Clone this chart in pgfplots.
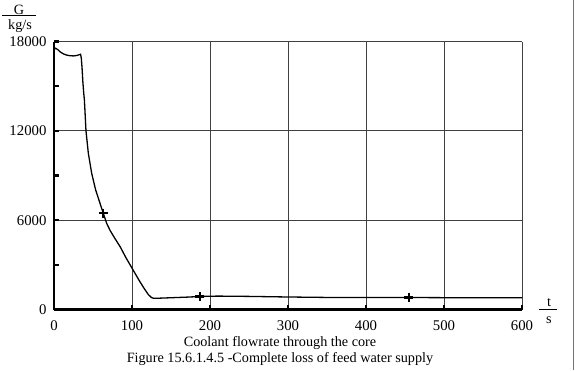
\documentclass[border=0pt]{standalone}
\usepackage{fontspec}
\setmainfont{Liberation Serif}
\usepackage{pgfplots}
\pgfplotsset{compat=1.18}
\begin{document}
\begin{tikzpicture}
\path[use as bounding box] (0,0) rectangle (575pt,370pt);
\draw[black!55, line width=1pt] (573.5pt,0) -- (573.5pt,370pt);
\begin{axis}[
  at={(54pt,60.5pt)}, anchor=south west,
  scale only axis, width=468pt, height=268pt,
  xmin=0, xmax=600, ymin=0, ymax=18000,
  enlargelimits=false,
  axis lines*=left,
  axis line style={-, line width=2.6pt, black},
  every outer x axis line/.append style={-},
  every outer y axis line/.append style={-},
  xtick={0,100,200,300,400,500,600},
  ytick={0,6000,12000,18000},
  minor ytick={3000,9000,15000},
  tick align=inside,
  major tick length=5pt, minor tick length=5pt,
  every tick/.style={black, line width=2.2pt},
  grid=major,
  major grid style={black!75, line width=0.9pt},
  scaled y ticks=false,
  /pgf/number format/assume math mode=true,
  /pgf/number format/set thousands separator={},
  tick label style={font=\fontsize{14.8}{17}\selectfont},
  xticklabel style={yshift=-8pt},
  yticklabel style={xshift=-4pt},
  clip=false,
]
\addplot[black, line width=1.3pt] coordinates {
(0,17450) (2,17550) (5,17450) (8,17300) (12,17170) (16,17090) (20,17050)
(25,17030) (30,17070) (34,17140) (35,16900) (36,16200) (37,15300)
(38,14600) (39,14050) (41,12000) (44,10500) (48.3,9150) (53.4,8030)
(59,7130) (63.2,6460) (67.5,5790) (72,5300) (78,4780) (85,4200)
(92,3500) (100,2780) (110,1880)
(116,1380) (121,1000) (125,800) (128,750) (135,760) (150,790) (170,830)
(190,880) (210,900) (250,880) (300,840) (350,810) (400,800) (455,805)
(500,795) (600,785)
};
\addplot[only marks, black, mark=+, mark size=4.5pt, line width=2.5pt] coordinates {
(63,6480) (187,880) (455,810)
};
\end{axis}
\begin{scope}[every node/.style={font=\fontsize{14.2}{16}\selectfont, inner sep=0pt}]
\node at (19pt,360pt) {G};
\draw[black, line width=0.9pt] (2pt,355pt) -- (36pt,355pt);
\node at (20pt,344.3pt) {kg/s};
\node at (549pt,67.3pt) {t};
\draw[black, line width=0.9pt] (539pt,61pt) -- (557.3pt,61pt);
\node at (549pt,50pt) {s};
\node at (280pt,27pt) {Coolant flowrate through the core};
\node at (280pt,10.7pt) {Figure 15.6.1.4.5 -Complete loss of feed water supply};
\end{scope}
\end{tikzpicture}
\end{document}
